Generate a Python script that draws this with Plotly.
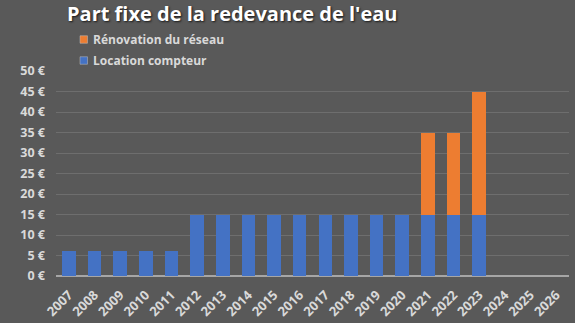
import plotly.graph_objects as go

years = [str(y) for y in range(2007, 2027)]
location = [6, 6, 6, 6, 6, 15, 15, 15, 15, 15, 15, 15, 15, 15, 15, 15, 15, None, None, None]
renovation = [None] * 14 + [20, 20, 30, None, None, None]
y_ticks = list(range(0, 51, 5))
y_labels = [f"{v} €" for v in y_ticks]

series_names = ["Rénovation du réseau", "Location compteur"]
series_colors = ["#ed7d31", "#4472c4"]

BG = "#595959"
TXT = "#d9d9d9"
W, H = 575, 323
ML, MR, MT, MB = 56, 6, 71, 47
PW, PH = W - ML - MR, H - MT - MB


def px_x(px):
    return (px - ML) / PW


def px_y(py):
    return (H - MB - py) / PH


fig = go.Figure()
fig.add_trace(go.Bar(
    x=years, y=location, name=series_names[1],
    marker=dict(color=series_colors[1], line=dict(width=0)),
))
fig.add_trace(go.Bar(
    x=years, y=renovation, name=series_names[0],
    marker=dict(color=series_colors[0], line=dict(width=0)),
))

# custom legend (Excel style: small square close to text)
legend_py = [39.5, 60.5]
for name, col, py in zip(series_names, series_colors, legend_py):
    fig.add_shape(type="rect", xref="paper", yref="paper",
                  x0=px_x(80), x1=px_x(87.5),
                  y0=px_y(py + 3.75), y1=px_y(py - 3.75),
                  line=dict(width=0.5, color="#bfbfbf"), fillcolor=col)
    fig.add_annotation(
        xref="paper", yref="paper", x=px_x(91), y=px_y(py),
        xanchor="left", yanchor="middle", showarrow=False,
        text=f"<b>{name}</b>",
        font=dict(family="Open Sans", size=12, color=TXT),
    )

fig.update_layout(
    width=W, height=H,
    margin=dict(l=ML, r=MR, t=MT, b=MB, autoexpand=False),
    paper_bgcolor=BG, plot_bgcolor=BG,
    barmode="stack", bargap=0.47,
    font=dict(family="Open Sans", color=TXT, size=12),
    showlegend=False,
    title=dict(
        text="<b>Part fixe de la redevance de l'eau</b>",
        x=67 / W, xanchor="left", xref="container",
        y=1 - 14 / H, yanchor="middle", yref="container",
        font=dict(family="Open Sans", size=20, color="#ffffff",
                  shadow="1px 1px 2px #1a1a1a"),
    ),
    xaxis=dict(
        type="category", tickangle=-45, showgrid=False, automargin=False,
        tickfont=dict(family="Open Sans", size=13, color=TXT, weight="bold"),
        ticks="", showline=False, zeroline=False, ticklabelstandoff=8,
    ),
    yaxis=dict(
        range=[0, 50], tickvals=y_ticks, ticktext=y_labels, automargin=False,
        gridcolor="#6e6e6e", gridwidth=1,
        zeroline=True, zerolinecolor="#a6a6a6", zerolinewidth=2,
        tickfont=dict(family="Open Sans", size=12.5, color=TXT, weight="bold"),
        ticks="", showline=False, ticklabelstandoff=10,
    ),
)

fig.write_html("out.html")
